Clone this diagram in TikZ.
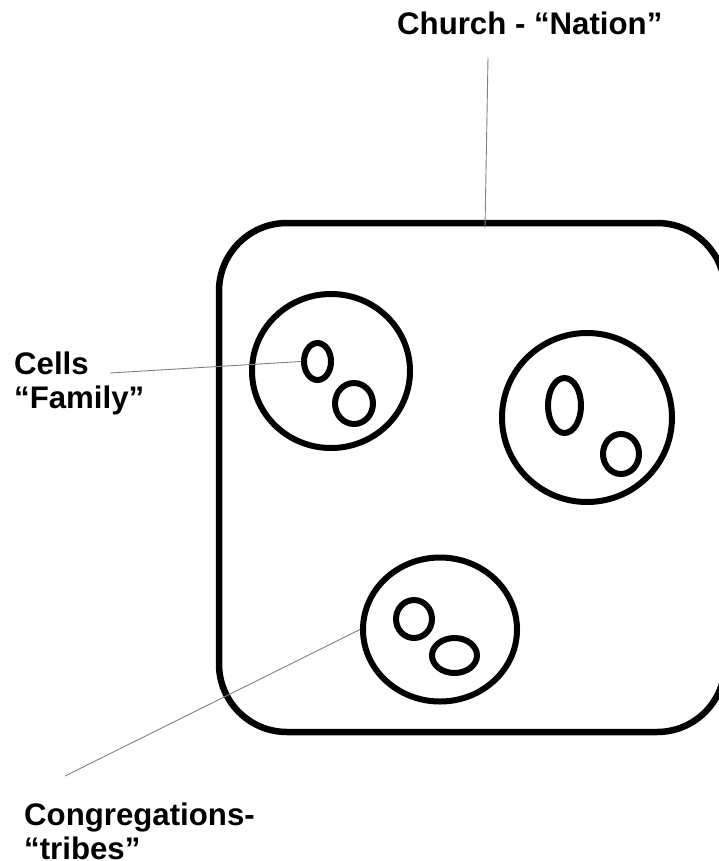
\documentclass[tikz,border=0pt]{standalone}
\usepackage{fontspec}
\setmainfont{Liberation Sans}
\usetikzlibrary{shapes.geometric}
\begin{document}
\begin{tikzpicture}[x=1pt,y=-1pt,
  outline/.style={draw=black,line width=6.5pt},
  blob/.style={ellipse,draw=black,line width=6pt,inner sep=0pt},
  leader/.style={draw=black!50,line width=0.9pt},
  label/.style={anchor=base west,inner sep=0pt,font=\fontsize{31.2}{34.5}\selectfont\bfseries}]
\useasboundingbox (0,0) rectangle (719,861);

% the church: one large rounded square, its right side just past the edge
\node[outline,rectangle,rounded corners=68pt,minimum width=506pt,minimum height=509pt,inner sep=0pt]
  (church) at (472,477.5) {};

% congregations and the families inside them
\node[blob,minimum width=158pt,minimum height=154pt] (congA) at (331,371) {};
\node[blob,minimum width=27pt,minimum height=37pt] (famA1) at (317.5,361.5) {};
\node[blob,minimum width=38pt,minimum height=41pt] (famA2) at (354,403.5) {};

\node[blob,minimum width=170pt,minimum height=169pt] (congB) at (587,417.5) {};
\node[blob,minimum width=33pt,minimum height=55pt] (famB1) at (564.5,405.5) {};
\node[blob,minimum width=36pt,minimum height=40pt] (famB2) at (621,454) {};

\node[blob,minimum width=154pt,minimum height=144pt] (congC) at (440,629.5) {};
\node[blob,minimum width=36pt,minimum height=38pt] (famC1) at (414,619) {};
\node[blob,minimum width=45pt,minimum height=35pt] (famC2) at (454.5,655.5) {};

% labels
\node[label] (lblChurch) at (397,35) {Church - “Nation”};
\node[label] (lblCells) at (14,374) {\vtop{\hbox{Cells}\hbox{“Family”}}};
\node[label] (lblCong) at (24,825) {\vtop{\hbox{Congregations-}\hbox{“tribes”}}};

% leader lines
\coordinate (churchFrom) at (488,58);
\coordinate (churchTo) at (485,228);
\coordinate (cellsFrom) at (110,373);
\coordinate (congFrom) at (65,776);
\draw[leader] (churchFrom) -- (churchTo);
\draw[leader] (cellsFrom) -- (famA1.west);
\draw[leader] (congFrom) -- (congC.west);
\end{tikzpicture}
\end{document}
